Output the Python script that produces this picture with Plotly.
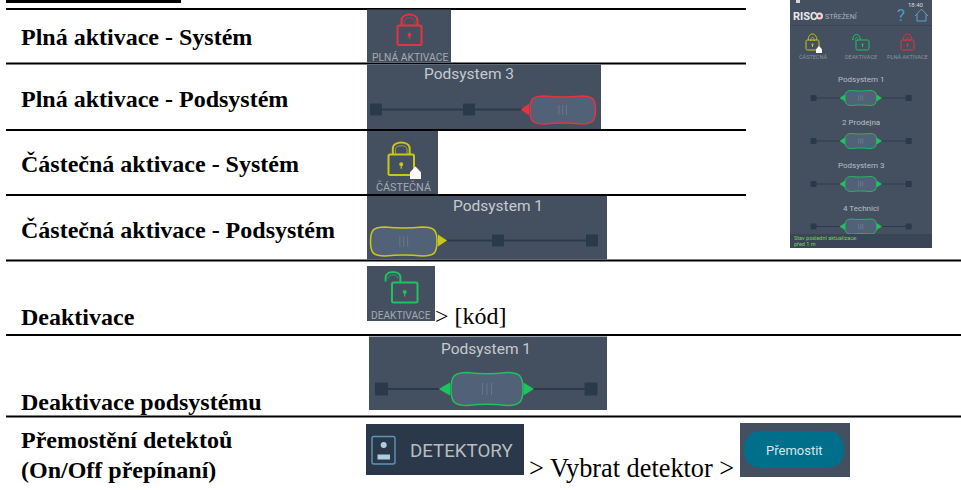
import plotly.graph_objects as go

# ---- content ----
row_labels = ["Plná aktivace - Systém", "Plná aktivace - Podsystém", "Částečná aktivace - Systém",
              "Částečná aktivace - Podsystém", "Deaktivace", "Deaktivace podsystému",
              "Přemostění detektoů", "(On/Off přepínaní)"]
row_y = [37, 99, 164, 230, 317, 402, 440, 470]
rule_y = [9, 63.5, 130, 195, 260.5, 335, 416.5]
rule_end = [746, 746, 746, 746, 961, 961, 961]
lock_labels = ["PLNÁ AKTIVACE", "ČÁSTEČNÁ", "DEAKTIVACE"]
slider_labels = ["Podsystem 3", "Podsystem 1", "Podsystem 1"]
phone_labels = ["Podsystem 1", "2 Prodejna", "Podsystem 3", "4 Technici"]
phone_slider_y = [98, 141, 184, 226.5]
phone_text_y = [79.5, 122.5, 165.5, 208.5]

PANEL = "#445060"; DARK = "#2b3a4b"; HANDLE = "#506178"; RIDGE = "#6b7f95"
RED = "#e5333f"; YELLOW = "#c9c818"; GREEN = "#1fc25e"; GREY = "#a4aab1"; LIGHT = "#c6cacf"

shapes, ann = [], []

def rect(x0, y0, x1, y1, fill, line=None, lw=0):
    shapes.append(dict(type="rect", xref="x", yref="y", x0=x0, y0=y0, x1=x1, y1=y1, fillcolor=fill,
                       line=dict(color=line or fill, width=lw)))

def path(d, fill="rgba(0,0,0,0)", line=None, lw=1.5):
    shapes.append(dict(type="path", xref="x", yref="y", path=d, fillcolor=fill,
                       line=dict(color=line or "rgba(0,0,0,0)", width=lw if line else 0)))

def seg(x0, y0, x1, y1, color, lw):
    shapes.append(dict(type="line", xref="x", yref="y", x0=x0, y0=y0, x1=x1, y1=y1, line=dict(color=color, width=lw)))

def text(x, y, s, size, color="#000", font="Liberation Serif", anchor="center", bold=False):
    ann.append(dict(x=x, y=y, xref="x", yref="y", text=f"<b>{s}</b>" if bold else s, showarrow=False,
                    xanchor=anchor, yanchor="middle", font=dict(size=size, color=color, family=font)))

def rrect(x0, y0, x1, y1, r):
    return (f"M{x0+r},{y0} L{x1-r},{y0} Q{x1},{y0} {x1},{y0+r} L{x1},{y1-r} Q{x1},{y1} {x1-r},{y1} "
            f"L{x0+r},{y1} Q{x0},{y1} {x0},{y1-r} L{x0},{y0+r} Q{x0},{y0} {x0+r},{y0} Z")

def lock(x0, y0, x1, y1, top, color, open_=False, lw=2):
    w = x1 - x0; h = y1 - y0; cx = (x0 + x1) / 2
    path(rrect(x0, y0, x1, y1, 1.5), line=color, lw=lw)
    if open_:
        sx0, sx1 = x0 - 0.25 * w, x0 + 0.33 * w
        path(f"M{sx0},{y0-1} L{sx0},{top+6} C{sx0},{top-1.5} {sx1},{top-1.5} {sx1},{top+6} L{sx1},{y0}", line=color, lw=lw)
        path(f"M{sx0+2.5},{top+7} C{sx0+2.5},{top+2} {sx1-2.5},{top+2} {sx1-2.5},{top+7}", line=color, lw=0.7)
    else:
        sx0, sx1 = x0 + 0.17 * w, x1 - 0.17 * w
        path(f"M{sx0},{y0} L{sx0},{top+6} C{sx0},{top-2} {sx1},{top-2} {sx1},{top+6} L{sx1},{y0}", line=color, lw=lw)
        path(f"M{sx0+2.6},{y0} L{sx0+2.6},{top+7} C{sx0+2.6},{top+2} {sx1-2.6},{top+2} {sx1-2.6},{top+7} L{sx1-2.6},{y0}", line=color, lw=0.7)
    ky = (y0 + y1) / 2
    r = h * 0.1
    shapes.append(dict(type="circle", xref="x", yref="y", x0=cx-r, x1=cx+r, y0=ky-r-0.5, y1=ky+r-0.5, fillcolor=color, line=dict(width=0)))
    seg(cx, ky, cx, ky + h * 0.2, color, max(1, lw * 0.6))

def house(x0, y0, x1, y1):
    cx = (x0 + x1) / 2; m = y0 + (y1 - y0) * 0.45
    path(f"M{cx},{y0} L{x1},{m} L{x1},{y1} L{x0},{y1} L{x0},{m} Z", fill="#ffffff")

def pill(x0, x1, y0, y1, color, lw=1.5):
    h = y1 - y0; r = h * 0.5; p = h * 0.03; cx = (x0 + x1) / 2; cy = (y0 + y1) / 2
    d = (f"M{x0+r},{y0} C{cx-r*0.5},{y0+p*1.4} {cx+r*0.5},{y0+p*1.4} {x1-r},{y0} "
         f"C{x1-r*0.2},{y0} {x1},{cy-r*0.8} {x1},{cy} C{x1},{cy+r*0.8} {x1-r*0.2},{y1} {x1-r},{y1} "
         f"C{cx+r*0.5},{y1-p*1.4} {cx-r*0.5},{y1-p*1.4} {x0+r},{y1} "
         f"C{x0+r*0.2},{y1} {x0},{cy+r*0.8} {x0},{cy} C{x0},{cy-r*0.8} {x0+r*0.2},{y0} {x0+r},{y0} Z")
    path(d, fill=HANDLE, line=color, lw=lw)
    gap = h * 0.15
    for dx in (-0.15, 0, 0.15):
        seg(cx + dx * h * 0.9, cy - gap * 1.2, cx + dx * h * 0.9, cy + gap * 1.2, RIDGE, 0.8)

def tri(base, tip, y, half, color):
    path(f"M{base},{y-half} L{tip},{y} L{base},{y+half} Z", fill=color)

def sq(cx, cy, s):
    rect(cx - s / 2, cy - s / 2, cx + s / 2, cy + s / 2, DARK)

# ---- header bar and rules ----
rect(6, 0, 181, 3, "#000")
for y, e in zip(rule_y, rule_end):
    seg(6, y, e, y, "#000", 2)

# ---- row labels ----
for s, y in zip(row_labels, row_y):
    text(19, y, s, 24, bold=True, anchor="left")

# ---- panel: red lock ----
rect(367, 9.5, 451, 62.5, PANEL)
lock(397.5, 25.5, 421.5, 45, 14.5, RED)
text(409.5, 57, lock_labels[0], 10.3, GREY, "Roboto")

# ---- panel: Podsystem 3 ----
rect(367, 64.5, 601, 129, PANEL)
text(469, 74, slider_labels[0], 15.5, LIGHT, "Roboto")
seg(376, 109.5, 522, 109.5, DARK, 1.8)
sq(376, 109.5, 12); sq(469, 109.5, 12)
tri(529, 520.7, 109.5, 6, RED)
pill(530, 595.5, 96, 124, RED)

# ---- panel: yellow lock ----
rect(367, 131, 438, 194, PANEL)
lock(388.5, 154.5, 414, 175, 142.5, YELLOW)
house(410, 166.5, 421, 179)
text(403, 187, lock_labels[1], 10.8, GREY, "Roboto")

# ---- panel: Podsystem 1 yellow ----
rect(367, 196, 607, 259.5, PANEL)
text(497.7, 205.5, slider_labels[1], 15.5, LIGHT, "Roboto")
seg(447, 240.5, 592, 240.5, DARK, 1.8)
sq(498, 240.5, 12); sq(592, 240.5, 12)
pill(370.5, 437, 227, 256, YELLOW)
tri(438, 447, 240.5, 6, YELLOW)

# ---- panel: green lock ----
rect(367, 266, 435, 321, PANEL)
lock(392, 282.5, 417.5, 302.5, 271.5, GREEN, open_=True)
text(401, 315, lock_labels[2], 10.2, GREY, "Roboto")
text(433, 316, "&gt; [kód]", 24, anchor="left")

# ---- panel: Podsystem 1 green ----
rect(369, 336.5, 607, 410, PANEL)
text(486, 348.5, slider_labels[2], 15.5, LIGHT, "Roboto")
seg(381, 389, 591, 389, DARK, 1.8)
sq(381.5, 389, 13); sq(591, 389, 13)
tri(450, 438.7, 389, 6.5, GREEN); tri(523.5, 534, 389, 6.5, GREEN)
pill(451, 523, 372.5, 405.5, GREEN)

# ---- panel: DETEKTORY ----
rect(366, 424, 524, 475, "#2a3849")
path(rrect(372, 436.5, 395, 464, 2), line="#5f95b5", lw=1.4)
shapes.append(dict(type="circle", xref="x", yref="y", x0=380.7, x1=386.7, y0=442, y1=448, fillcolor="#a9cfe0", line=dict(width=0)))
rect(377.5, 454.5, 390, 459.5, "#a9cfe0")
text(461.7, 451, "DETEKTORY", 18.7, "#b8bcc0", "Roboto")
text(527, 468, "&gt; Vybrat detektor &gt;", 26.3, anchor="left")

# ---- panel: Premostit ----
rect(740, 423, 850, 477, PANEL)
path(rrect(744, 431, 844, 468, 18.5), fill="#006f8b")
text(794, 450, "Přemostit", 13, "#d6e6ea", "Roboto")

# ---- phone screenshot ----
rect(790, 0, 932, 248, PANEL)
seg(790, 25.5, 932, 25.5, "#3a4655", 1)
rect(796, 0, 800, 3, "#d5d8db")
text(916, 4, "18:40", 6, "#d5d8db", "Roboto")
text(805, 16, "<b>RISC</b>", 11, "#e8eaec", "Roboto")
shapes.append(dict(type="circle", xref="x", yref="y", x0=816, x1=823, y0=12.5, y1=19.5, fillcolor="#dcdfe2", line=dict(width=0)))
shapes.append(dict(type="circle", xref="x", yref="y", x0=818, x1=821, y0=14.5, y1=17.5, fillcolor="#e0232e", line=dict(width=0)))
text(841.5, 16, "STŘEŽENÍ", 7, "#aab0b6", "Roboto")
text(901, 15, "?", 17, "#4d9cc4", "Roboto")
path("M915,16 L921.5,9 L928,16 M917,14 L917,21 L926,21 L926,14", line="#5f9fc4", lw=1)
lock(806, 40, 819, 50, 34, YELLOW, lw=1)
house(816, 46, 822, 53)
lock(856, 40, 869, 50, 34, GREEN, open_=True, lw=1)
lock(901, 40, 914, 50, 34, RED, lw=1)
text(813, 56.5, "ČÁSTEČNÁ", 5.5, "#8b939c", "Roboto")
text(861, 57, "DEAKTIVACE", 5.5, "#8b939c", "Roboto")
text(907, 57, "PLNÁ AKTIVACE", 5.5, "#8b939c", "Roboto")
for s, ty, sy in zip(phone_labels, phone_text_y, phone_slider_y):
    text(860.7, ty, s, 8, "#b9bec4", "Roboto")
    seg(813, sy, 909, sy, DARK, 1)
    sq(813.5, sy, 6); sq(908.7, sy, 6)
    tri(845, 839.5, sy, 3.5, GREEN); tri(876.5, 882, sy, 3.5, GREEN)
    pill(845, 876.5, sy - 7.5, sy + 7.5, GREEN, 0.9)
rect(790, 234, 932, 248, "#3a4655")
text(792, 238, "Stav poslední aktualizace:", 5.5, "#79cf58", "Roboto", anchor="left")
text(792, 244, "před 1 m", 5.5, "#79cf58", "Roboto", anchor="left")

fig = go.Figure()
fig.update_layout(width=961, height=490, margin=dict(l=0, r=0, t=0, b=0), showlegend=False,
                  paper_bgcolor="#fff", plot_bgcolor="#fff", shapes=shapes, annotations=ann,
                  xaxis=dict(range=[0, 961], visible=False, fixedrange=True),
                  yaxis=dict(range=[490, 0], visible=False, fixedrange=True))
fig.write_html("out.html", config=dict(displayModeBar=False),
               post_script="document.body.style.margin='0';document.body.style.overflow='hidden';")
